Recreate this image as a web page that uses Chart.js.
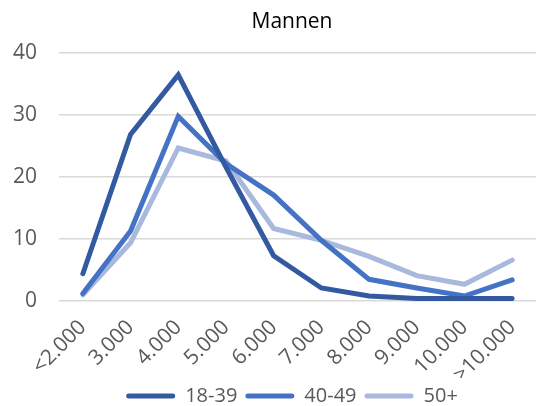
<!DOCTYPE html>
<html>
<head>
<meta charset="utf-8">
<script src="https://cdn.jsdelivr.net/npm/chart.js@4"></script>
<style>
  body { margin: 0; background: #fff; }
  #wrap { width: 536px; height: 406px; }
</style>
</head>
<body>
<div id="wrap"><canvas id="chartMannen"></canvas></div>
<script>
// categorieen en waarden
const labels = ['<2.000', '3.000', '4.000', '5.000', '6.000', '7.000', '8.000', '9.000', '10.000', '>10.000'];
const jong = [4.4, 26.9, 36.5, 21.6, 7.3, 2.1, 0.8, 0.4, 0.4, 0.4];
const midden = [1.2, 11.3, 29.8, 22.2, 17.1, 9.8, 3.5, 2.1, 0.8, 3.4];
const oud = [1.0, 9.4, 24.7, 22.6, 11.7, 9.8, 7.2, 4.1, 2.7, 6.6];
const yTicks = [0, 10, 20, 30, 40];

const fontFam = "'Open Sans', 'Noto Sans', sans-serif";

function lijn(label, data, kleur) {
  return {
    label: label,
    data: data,
    borderColor: kleur,
    backgroundColor: kleur,
    borderWidth: 5,
    pointRadius: 0,
    tension: 0,
    borderCapStyle: 'round'
  };
}

// titel en legenda centreren boven het plotgebied i.p.v. het hele canvas
const centreer = {
  id: 'centreer',
  afterLayout(chart) {
    chart.legend.left = 40;
    chart.titleBlock.left = 40;
  }
};

const ctx = document.getElementById('chartMannen');

new Chart(ctx, {
  type: 'line',
  data: {
    labels: labels,
    datasets: [
      lijn('18-39', jong, '#335aa1'),
      lijn('40-49', midden, '#4472c4'),
      lijn('50+', oud, '#a9b8dd')
    ]
  },
  options: {
    responsive: true,
    maintainAspectRatio: false,
    animation: false,
    layout: { padding: { left: 0, right: -8, top: 0, bottom: -10 } },
    plugins: {
      title: {
        display: true,
        text: 'Mannen',
        color: '#000',
        font: { family: fontFam, size: 21, weight: 'normal' },
        padding: { top: 9, bottom: 19 }
      },
      legend: {
        position: 'bottom',
        labels: {
          color: '#595959',
          font: { family: fontFam, size: 20 },
          boxWidth: 49,
          boxHeight: 5,
          useBorderRadius: true,
          borderRadius: 2.5,
          padding: 8,
          generateLabels: chart => Chart.defaults.plugins.legend.labels.generateLabels(chart).map(l => ({ ...l, lineWidth: 0 }))
        }
      },
      tooltip: { enabled: false }
    },
    scales: {
      x: {
        offset: true,
        grid: { display: false },
        border: { display: false },
        afterFit: axis => { axis.height = 77; },
        ticks: {
          color: '#595959',
          font: { family: fontFam, size: 21 },
          maxRotation: 45,
          minRotation: 45,
          padding: 6
        }
      },
      y: {
        min: 0,
        max: 40,
        afterBuildTicks: axis => { axis.ticks = yTicks.map(v => ({ value: v })); },
        afterFit: axis => { axis.width = 59; },
        grid: { color: '#d9d9d9', lineWidth: 1.5, drawTicks: false },
        border: { display: false },
        ticks: {
          color: '#595959',
          font: { family: fontFam, size: 21 },
          padding: 22
        }
      }
    }
  },
  plugins: [centreer]
});
</script>
</body>
</html>
